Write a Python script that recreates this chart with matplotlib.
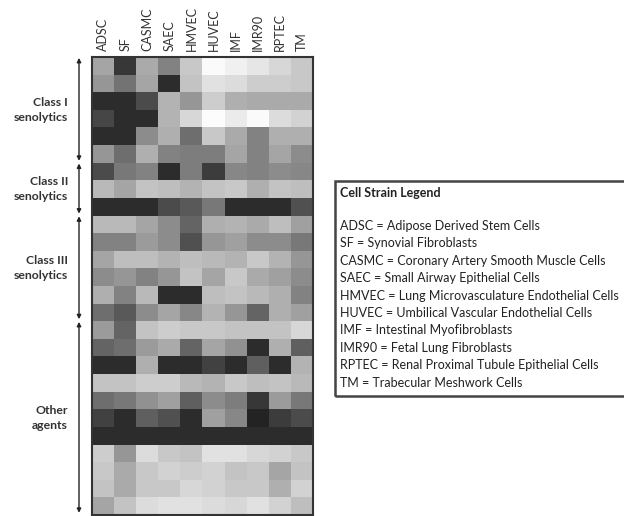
import matplotlib
matplotlib.use("Agg")
import matplotlib.pyplot as plt
import numpy as np
from matplotlib.patches import Rectangle
import matplotlib.transforms as mtransforms

plt.rcParams['font.family'] = ['Lato', 'DejaVu Sans']

strains = ["ADSC", "SF", "CASMC", "SAEC", "HMVEC", "HUVEC", "IMF", "IMR90", "RPTEC", "TM"]

# grey level of each cell (0 = black, 255 = white), one row per agent
gray_levels = [
    [165, 55, 170, 130, 200, 250, 240, 230, 215, 200],
    [150, 115, 165, 45, 195, 225, 220, 205, 205, 200],
    [45, 45, 75, 180, 150, 205, 175, 170, 170, 170],
    [70, 45, 45, 180, 215, 252, 235, 250, 220, 210],
    [45, 45, 140, 175, 110, 200, 170, 130, 175, 175],
    [150, 110, 175, 130, 125, 125, 165, 130, 165, 140],
    [75, 120, 130, 45, 125, 60, 135, 130, 140, 135],
    [185, 165, 195, 190, 180, 195, 200, 175, 195, 190],
    [45, 45, 45, 75, 90, 120, 45, 45, 45, 80],
    [185, 185, 165, 140, 100, 175, 180, 170, 190, 160],
    [130, 130, 155, 140, 80, 150, 160, 140, 140, 120],
    [165, 190, 190, 180, 190, 185, 180, 200, 180, 150],
    [140, 150, 130, 150, 195, 165, 200, 170, 160, 140],
    [175, 130, 185, 45, 45, 190, 195, 185, 175, 130],
    [110, 90, 140, 165, 135, 180, 150, 100, 175, 160],
    [155, 100, 195, 205, 200, 200, 195, 195, 195, 215],
    [100, 110, 155, 170, 100, 165, 145, 45, 175, 95],
    [45, 45, 175, 45, 45, 65, 45, 95, 45, 180],
    [195, 195, 205, 205, 185, 180, 200, 190, 195, 185],
    [110, 120, 145, 160, 95, 140, 125, 55, 155, 120],
    [65, 45, 95, 80, 45, 160, 135, 35, 60, 75],
    [45, 45, 45, 45, 45, 45, 45, 45, 45, 45],
    [205, 150, 220, 200, 195, 225, 225, 215, 210, 200],
    [200, 170, 200, 210, 205, 210, 195, 200, 165, 195],
    [195, 170, 200, 200, 215, 210, 200, 200, 175, 210],
    [165, 195, 220, 225, 225, 220, 215, 225, 210, 190],
]

groups = ["Class I\nsenolytics", "Class II\nsenolytics", "Class III\nsenolytics", "Other\nagents"]
group_rows = [(0, 6), (6, 9), (9, 15), (15, 26)]

legend_title = "Cell Strain Legend"
legend_lines = [
    "ADSC = Adipose Derived Stem Cells",
    "SF = Synovial Fibroblasts",
    "CASMC = Coronary Artery Smooth Muscle Cells",
    "SAEC = Small Airway Epithelial Cells",
    "HMVEC = Lung Microvasculature Endothelial Cells",
    "HUVEC = Umbilical Vascular Endothelial Cells",
    "IMF = Intestinal Myofibroblasts",
    "IMR90 = Fetal Lung Fibroblasts",
    "RPTEC = Renal Proximal Tubule Epithelial Cells",
    "TM = Trabecular Meshwork Cells",
]

W, H = 624, 516
fig = plt.figure(figsize=(W / 100, H / 100), dpi=100)
fig.patch.set_facecolor("white")

left, top, width, nrows = 92, 57, 221, len(gray_levels)
row_h = 17.6
height = nrows * row_h
ax = fig.add_axes([left / W, 1 - (top + height) / H, width / W, height / H])
data = np.array(gray_levels, dtype=float)
ax.imshow(data, cmap="gray", vmin=0, vmax=255, aspect="auto", interpolation="nearest")
ax.set_xticks(range(len(strains)))
ax.set_xticklabels(strains, rotation=90, fontsize=9, color="#333333")
ax.xaxis.tick_top()
ax.tick_params(axis="x", length=0, pad=4)
ax.set_yticks([])
for s in ax.spines.values():
    s.set_linewidth(1.5)
    s.set_color("#333333")

trans = mtransforms.blended_transform_factory(ax.transAxes, ax.transData)
ax_x = (79 - left) / width
lab_x = (68 - left) / width
for name, (r0, r1) in zip(groups, group_rows):
    ax.annotate("", xy=(ax_x, r0 - 0.45), xytext=(ax_x, r1 - 0.6),
                xycoords=trans, textcoords=trans,
                arrowprops=dict(arrowstyle="<|-|>", color="#222222", lw=1.0,
                                mutation_scale=6, shrinkA=0, shrinkB=0),
                annotation_clip=False)
    ax.text(lab_x, (r0 + r1) / 2 - 0.5, name, transform=trans, ha="right", va="center",
            fontsize=8.8, fontweight="bold", color="#333333", linespacing=1.45,
            clip_on=False)

# legend box
bx0, by0, bx1, by1 = 335, 181, 626, 396
fig.patches.append(Rectangle((bx0 / W, 1 - by1 / H), (bx1 - bx0) / W, (by1 - by0) / H,
                             transform=fig.transFigure, fill=False,
                             edgecolor="#444444", linewidth=1.8))
fig.text(340 / W, 1 - 193 / H, legend_title, fontsize=9, fontweight="bold",
         color="#222222", ha="left", va="center")
for i, line in enumerate(legend_lines):
    fig.text(340 / W, 1 - (226 + 17.4 * i) / H, line, fontsize=9,
             color="#222222", ha="left", va="center")

fig.savefig("out.png", dpi=100, facecolor="white")
